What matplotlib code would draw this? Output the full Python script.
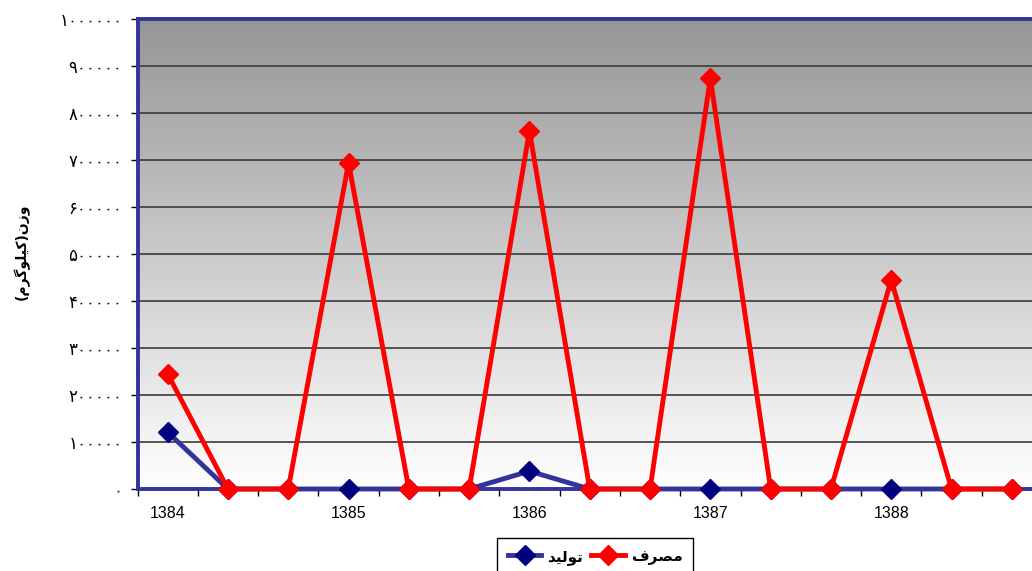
import numpy as np
import matplotlib.pyplot as plt

## Data
categories = list(range(15))
year_labels = ["1384", "1385", "1386", "1387", "1388"]
year_pos = [0, 3, 6, 9, 12]
consumption = [245000, 0, 0, 694000, 0, 0, 762000, 0, 0, 874000, 0, 0, 445000, 0, 0]  # مصرف
production = [121000, 0, 0, 0, 0, 0, 38000, 0, 0, 0, 0, 0, 0, 0, 0]  # تولید
y_ticks = list(range(0, 1000001, 100000))

# Persian text, shaped with presentation forms in visual order
name_prod = "\uFEAA\uFEF4\uFEDF\uFEEE\uFE97"  # تولید
name_cons = "\uFED1\uFEAE\uFEBC\uFEE3"  # مصرف
ylabel = "(\uFEE1\uFEAE\uFB94\uFEEE\uFEE0\uFEF4\uFB90)\uFEE5\uFEAF\uFEED"  # وزن(کیلوگرم)


def fa_digits(v):
    return str(v).translate(str.maketrans("0123456789", "۰۱۲۳۴۵۶۷۸۹"))


## Figure
W, H = 1032, 571
fig = plt.figure(figsize=(W / 100, H / 100), dpi=100)
left, top, bottom = 137.5, 19, 489
x_right_px = left + 15 * 60.3
ax = fig.add_axes([left / W, 1 - bottom / H, (x_right_px - left) / W, (bottom - top) / H])

# gradient background (dark grey at top, white at bottom)
grad = np.linspace(150, 255, 256)[:, None] / 255
ax.imshow(np.dstack([grad, grad, grad]), extent=(-0.5, 14.5, 0, 1000000),
          origin="upper", aspect="auto", zorder=0)
ax.set_xlim(-0.5, 14.5)
ax.set_ylim(0, 1000000)

for v in y_ticks[1:]:
    ax.axhline(v, color="#3a3a3a", lw=1.2, zorder=1)

ax.plot(categories, production, color="#333399", lw=3.5, marker="D", ms=10,
        mfc="#000080", mec="#000080", zorder=3, clip_on=False, label=name_prod)
ax.plot(categories, consumption, color="#ff0000", lw=3.5, marker="D", ms=10,
        mfc="#ff0000", mec="#ff0000", zorder=4, clip_on=False, label=name_cons)

for s in ["left", "top", "bottom"]:
    ax.spines[s].set_color("#333399")
    ax.spines[s].set_linewidth(2.8)
    ax.spines[s].set_zorder(2)
ax.spines["right"].set_visible(False)

ax.set_xticks(year_pos)
ax.set_xticklabels(year_labels, fontfamily="Liberation Sans", fontsize=11.5)
ax.set_xticks(np.arange(-0.5, 15, 1), minor=True)
ax.tick_params(axis="x", which="major", length=0, pad=12)
ax.tick_params(axis="x", which="minor", length=5, width=1, color="black")

ax.set_yticks(y_ticks)
ax.set_yticklabels([fa_digits(v) for v in y_ticks], fontfamily="DejaVu Sans", fontsize=12)
ax.tick_params(axis="y", length=5, width=1, color="black", pad=6)

fig.text(22 / W, 1 - 252 / H, ylabel, rotation=90, ha="center", va="center",
         fontsize=10, fontweight="bold", fontfamily="DejaVu Sans")

fig.legend(loc="upper left", bbox_to_anchor=(497 / W, 1 - 538 / H), ncol=2,
           prop={"family": "DejaVu Sans", "weight": "bold", "size": 11},
           frameon=True, fancybox=False, edgecolor="black", framealpha=1,
           handlelength=2.2, columnspacing=0.5, handletextpad=0.4, borderpad=0.7,
           borderaxespad=0)

fig.savefig("out.png", dpi=100)
